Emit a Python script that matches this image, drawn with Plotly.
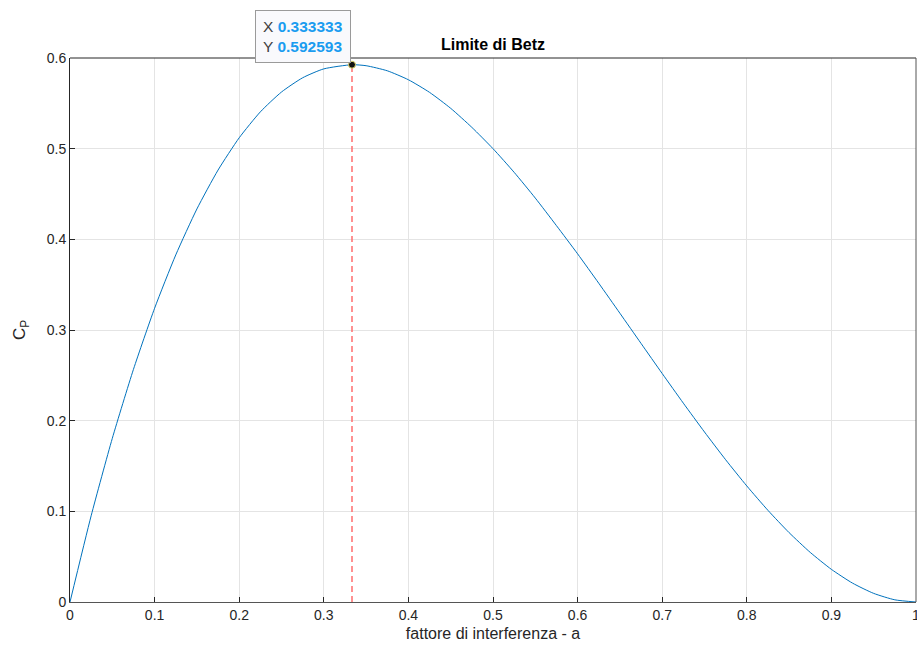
import plotly.graph_objects as go

# Values
a_vals = [0.0, 0.025, 0.05, 0.075, 0.1, 0.125, 0.15, 0.175, 0.2, 0.225, 0.25, 0.275, 0.3, 0.333333, 0.35, 0.375,
          0.4, 0.425, 0.45, 0.475, 0.5, 0.525, 0.55, 0.575, 0.6, 0.625, 0.65, 0.675, 0.7, 0.725, 0.75,
          0.775, 0.8, 0.825, 0.85, 0.875, 0.9, 0.925, 0.95, 0.975, 1.0]
cp_vals = [0.0, 0.0951, 0.1805, 0.2566, 0.324, 0.3828, 0.4335, 0.4764, 0.512, 0.5406, 0.5625, 0.5782, 0.588, 0.592593, 0.5915, 0.5859,
           0.576, 0.5621, 0.5445, 0.5235, 0.5, 0.4739, 0.4455, 0.4151, 0.384, 0.3516, 0.3185, 0.2852, 0.252, 0.2193, 0.1875,
           0.1569, 0.128, 0.1011, 0.0765, 0.0547, 0.036, 0.0208, 0.0095, 0.0024, 0.0]
peak_a = 0.333333
peak_cp = 0.592593
x_ticks = [0, 0.1, 0.2, 0.3, 0.4, 0.5, 0.6, 0.7, 0.8, 0.9, 1]
y_ticks = [0, 0.1, 0.2, 0.3, 0.4, 0.5, 0.6]

FONT = "Liberation Sans, Arial, sans-serif"
TXT = "#262626"

fig = go.Figure()
fig.add_trace(go.Scatter(x=a_vals, y=cp_vals, mode="lines",
                         line=dict(color="#0072BD", width=1, shape="spline", smoothing=0.6),
                         hoverinfo="skip", showlegend=False))
fig.add_trace(go.Scatter(x=[peak_a, peak_a], y=[0, peak_cp], mode="lines",
                         line=dict(color="#ff6e6e", width=1.5, dash="6px,4px"),
                         showlegend=False, hoverinfo="skip"))
fig.add_trace(go.Scatter(x=[peak_a], y=[peak_cp], mode="markers",
                         marker=dict(color="#111111", size=7, line=dict(color="#e0d870", width=1)),
                         showlegend=False, hoverinfo="skip", cliponaxis=False))

fig.add_annotation(x=peak_a, y=peak_cp, xref="x", yref="y", showarrow=False,
                   xanchor="right", yanchor="bottom", yshift=2, xshift=-1, align="left",
                   text=("X <b><span style='color:#1a9cf0'>%.6f</span></b><br>"
                         "Y <b><span style='color:#1a9cf0'>%.6f</span></b>") % (peak_a, peak_cp),
                   font=dict(family=FONT, size=15.5, color="#404040"),
                   bgcolor="#f9f9fc", bordercolor="#9a9a9a", borderwidth=1, borderpad=7)

fig.update_layout(
    width=917, height=652,
    margin=dict(l=70, r=1, t=58, b=50, autoexpand=False),
    paper_bgcolor="white", plot_bgcolor="white",
    font=dict(family=FONT, size=14, color=TXT),
    title=dict(text="<b>Limite di Betz</b>", x=0.5376, xanchor="center", xref="container",
               y=1 - 44 / 652, yref="container", yanchor="middle",
               font=dict(family=FONT, size=16, color="#000000")),
    xaxis=dict(range=[0, 1], tickvals=x_ticks, ticktext=[str(v) for v in x_ticks],
               ticks="inside", ticklen=5, tickcolor=TXT, showgrid=True, gridcolor="#e4e4e4",
               showline=True, linecolor="#555555", linewidth=1, mirror=False, zeroline=False,
               ticklabeloverflow="allow", automargin=False,
               tickfont=dict(size=14, color=TXT),
               title=dict(text="fattore di interferenza - a", standoff=6,
                          font=dict(size=16, color=TXT))),
    yaxis=dict(range=[0, 0.6], tickvals=y_ticks, ticktext=[str(v) for v in y_ticks],
               ticks="inside", ticklen=5, tickcolor=TXT, showgrid=True, gridcolor="#e4e4e4",
               showline=True, linecolor="#262626", linewidth=1, mirror=False, zeroline=False,
               automargin=False,
               tickfont=dict(size=14, color=TXT),
               title=dict(text="C<sub>P</sub>", standoff=16, font=dict(size=17, color=TXT))),
)
# top and right box edges
fig.add_shape(type="line", xref="paper", yref="paper", x0=0, x1=1, y0=1, y1=1,
              line=dict(color="#262626", width=1))
fig.add_shape(type="line", xref="paper", yref="paper", x0=1, x1=1, y0=0, y1=1,
              line=dict(color="#555555", width=1))

fig.write_html("out.html")
